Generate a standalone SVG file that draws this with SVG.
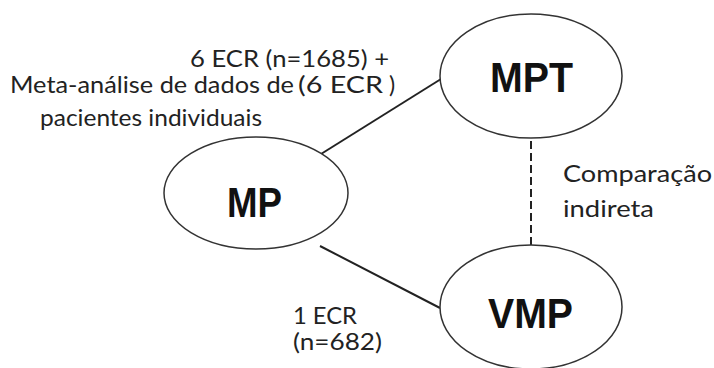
<svg xmlns="http://www.w3.org/2000/svg" width="714" height="368" viewBox="0 0 714 368">
<style>
.node ellipse{fill:#fff;stroke:#333;stroke-width:1.5}
.nl{font-family:"Liberation Sans",Arial,sans-serif;font-weight:bold;font-size:42px;fill:#111}
.t{font-family:Lato,"Open Sans",sans-serif;font-size:23px;fill:#222}
.edge{stroke:#222;stroke-width:2;fill:none}
.dash{stroke-dasharray:8 4}
</style>
<rect width="714" height="368" fill="#fff"/>
<g id="connectors">
<line class="edge" x1="321" y1="154" x2="441" y2="79"/>
<line class="edge" x1="320" y1="246" x2="440" y2="308"/>
<line class="edge dash" x1="531" y1="141" x2="531" y2="245"/>
</g>
<g id="MPT" class="node">
<ellipse cx="531" cy="76" rx="91" ry="62"/>
<text class="nl" x="490" y="92" textLength="83" lengthAdjust="spacingAndGlyphs">MPT</text>
</g>
<g id="MP" class="node">
<ellipse cx="256" cy="193" rx="92" ry="56"/>
<text class="nl" x="227" y="217" textLength="55" lengthAdjust="spacingAndGlyphs">MP</text>
</g>
<g id="VMP" class="node">
<ellipse cx="531" cy="307" rx="91" ry="62"/>
<text class="nl" x="488" y="328" textLength="85" lengthAdjust="spacingAndGlyphs">VMP</text>
</g>
<g id="labels">
<text class="t" x="190" y="67" textLength="199" lengthAdjust="spacingAndGlyphs">6 ECR (n=1685) +</text>
<text class="t" x="10" y="93" textLength="284" lengthAdjust="spacingAndGlyphs">Meta-análise de dados de</text>
<text class="t" x="298" y="93" font-size="24" textLength="85" lengthAdjust="spacingAndGlyphs">(6 ECR</text>
<text class="t" x="389" y="93" font-size="24">)</text>
<text class="t" x="40" y="126" textLength="222" lengthAdjust="spacingAndGlyphs">pacientes individuais</text>
<text class="t" x="563" y="182" textLength="149" lengthAdjust="spacingAndGlyphs">Comparação</text>
<text class="t" x="563" y="217" textLength="91" lengthAdjust="spacingAndGlyphs">indireta</text>
<text class="t" x="293" y="324" font-size="21" textLength="64" lengthAdjust="spacingAndGlyphs">1 ECR</text>
<text class="t" x="293" y="350" font-size="21" textLength="89" lengthAdjust="spacingAndGlyphs">(n=682)</text>
</g>
</svg>
